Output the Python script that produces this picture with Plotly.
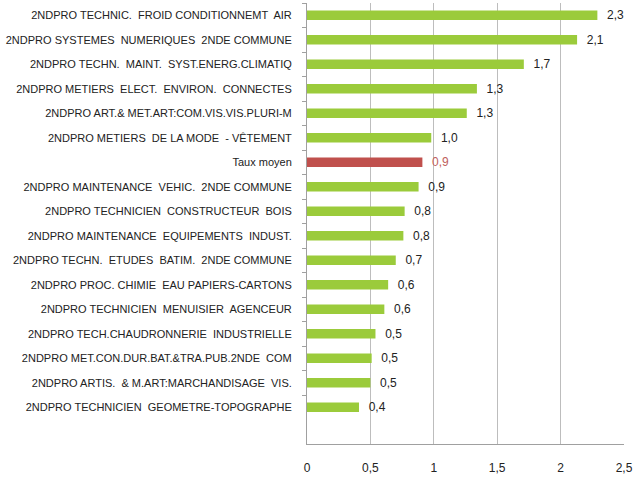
import plotly.graph_objects as go

categories = [
    "2NDPRO TECHNIC.  FROID CONDITIONNEMT  AIR",
    "2NDPRO SYSTEMES  NUMERIQUES  2NDE COMMUNE",
    "2NDPRO TECHN.  MAINT.  SYST.ENERG.CLIMATIQ",
    "2NDPRO METIERS  ELECT.  ENVIRON.  CONNECTES",
    "2NDPRO ART.& MET.ART:COM.VIS.VIS.PLURI-M",
    "2NDPRO METIERS  DE LA MODE  - VÊTEMENT",
    "Taux moyen",
    "2NDPRO MAINTENANCE  VEHIC.  2NDE COMMUNE",
    "2NDPRO TECHNICIEN  CONSTRUCTEUR  BOIS",
    "2NDPRO MAINTENANCE  EQUIPEMENTS  INDUST.",
    "2NDPRO TECHN.  ETUDES  BATIM.  2NDE COMMUNE",
    "2NDPRO PROC. CHIMIE  EAU PAPIERS-CARTONS",
    "2NDPRO TECHNICIEN  MENUISIER  AGENCEUR",
    "2NDPRO TECH.CHAUDRONNERIE  INDUSTRIELLE",
    "2NDPRO MET.CON.DUR.BAT.&TRA.PUB.2NDE  COM",
    "2NDPRO ARTIS.  & M.ART:MARCHANDISAGE  VIS.",
    "2NDPRO TECHNICIEN  GEOMETRE-TOPOGRAPHE",
]
values = [2.29, 2.13, 1.71, 1.34, 1.26, 0.98, 0.91, 0.88, 0.77, 0.76,
          0.70, 0.64, 0.61, 0.54, 0.51, 0.50, 0.41]
highlight = "Taux moyen"
x_ticks = [0, 0.5, 1, 1.5, 2, 2.5]
x_tick_labels = ["0", "0,5", "1", "1,5", "2", "2,5"]

GREEN = "#9bcb3b"
RED = "#c0504d"
colors = [RED if c == highlight else GREEN for c in categories]
label_colors = ["#c0605d" if c == highlight else "#222222" for c in categories]
labels = ["\u00a0\u00a0" + f"{v:.1f}".replace(".", ",") for v in values]

FONT = "Liberation Sans, Arial, sans-serif"

fig = go.Figure(go.Bar(
    x=values, y=categories, orientation="h",
    marker=dict(color=colors, line=dict(width=0)),
    width=0.38,
    text=labels, textposition="outside",
    constraintext="none",
    textfont=dict(color=label_colors, size=12, family=FONT),
    cliponaxis=False,
))

fig.update_layout(
    width=633, height=480,
    margin=dict(l=307, r=9, t=3, b=36, autoexpand=False),
    paper_bgcolor="white", plot_bgcolor="white",
    showlegend=False,
    font=dict(family=FONT, size=11, color="#222222"),
    xaxis=dict(
        range=[0, 2.5], tickvals=x_ticks, ticktext=x_tick_labels,
        showgrid=True, gridcolor="#bdbdbd", gridwidth=1,
        zeroline=False, showline=True, linecolor="#a0a0a0",
        ticks="", tickfont=dict(size=12, color="#222222"),
        ticklabelstandoff=13, automargin=False,
    ),
    yaxis=dict(
        type="category", categoryorder="array", categoryarray=categories,
        range=[17.5, -0.5],
        showline=True, linecolor="#a0a0a0",
        ticks="outside", ticklen=4, tickcolor="#a0a0a0", tickson="boundaries",
        showgrid=False, tickfont=dict(size=11, color="#222222"),
        ticklabelstandoff=12, automargin=False,
    ),
)

fig.write_html(
    "out.html",
    config={"displayModeBar": False},
    post_script="document.body.style.margin='0px';document.body.style.overflow='hidden';",
)
